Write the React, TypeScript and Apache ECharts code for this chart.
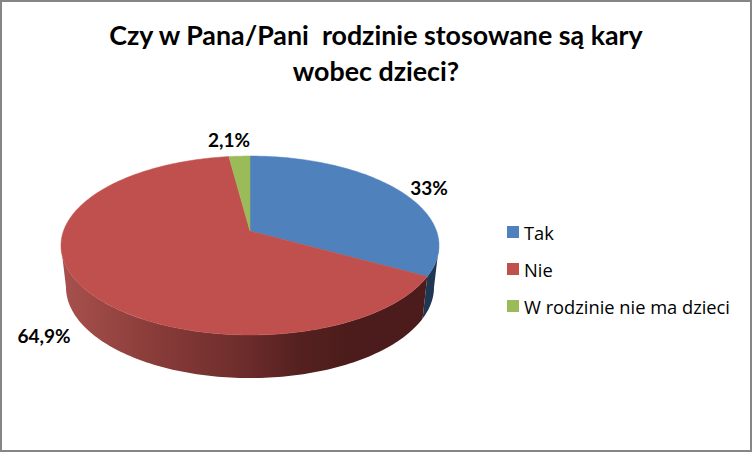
import React, { useEffect, useRef } from "react";
import * as echarts from "echarts";

const categories = ["Tak", "Nie", "W rodzinie nie ma dzieci"];
const values = [33, 64.9, 2.1];
const valueLabels = ["33%", "64,9%", "2,1%"];
const colors = ["#4F81BD", "#C0504D", "#9BBB59"];
const titleLines = "Czy w Pana/Pani  rodzinie stosowane są kary\nwobec dzieci?";

const total = values.reduce((a, b) => a + b, 0);
const CX = 250;
const C = 0.162;
const TOP = { a: -49.7, b: 231, d: 186.5 };
const BOT = { a: -44.5, b: 272.3, d: 181.6 };
const TANGENT = Math.acos(-C);

function project(p: { a: number; b: number; d: number }, t: number): number[] {
  const u = Math.sin(t);
  const v = Math.cos(t);
  const w = 1 + C * v;
  return [CX + (p.d * u) / w, (p.a * v + p.b) / w];
}

function arc(p: { a: number; b: number; d: number }, t0: number, t1: number): number[][] {
  const n = Math.max(2, Math.ceil(Math.abs(t1 - t0) / 0.02));
  const pts: number[][] = [];
  for (let i = 0; i <= n; i++) pts.push(project(p, t0 + ((t1 - t0) * i) / n));
  return pts;
}

const wallFill = [
  "#1F3752",
  new echarts.graphic.LinearGradient(61, 0, 426, 0, [
    { offset: 0, color: "#A8514E" },
    { offset: 0.24, color: "#8B3D3A" },
    { offset: 0.52, color: "#6A2B2A" },
    { offset: 0.65, color: "#552120" },
    { offset: 0.79, color: "#4B1C1B" },
    { offset: 1, color: "#4B1C1B" },
  ], true),
  "#5C7034",
];

function makeSeries(index: number) {
  const before = values.slice(0, index).reduce((a, b) => a + b, 0);
  const t0 = (before / total) * Math.PI * 2;
  const t1 = ((before + values[index]) / total) * Math.PI * 2;
  const labelPos = [
    [429, 187],
    [44, 335],
    [229, 139],
  ][index];
  return {
    type: "custom",
    name: categories[index],
    coordinateSystem: "none",
    silent: true,
    itemStyle: { color: colors[index] },
    data: [values[index]],
    renderItem: () => {
      const children: any[] = [];
      const wt0 = Math.max(t0, TANGENT);
      const wt1 = Math.min(t1, Math.PI * 2 - TANGENT);
      if (wt1 > wt0) {
        children.push({
          type: "polygon",
          shape: { points: [...arc(TOP, wt0, wt1), ...arc(BOT, wt1, wt0)] },
          style: { fill: wallFill[index] },
          z2: 1,
        });
      }
      const face = [[CX, TOP.b], ...arc(TOP, t0, t1)];
      children.push({
        type: "polygon",
        shape: { points: face },
        style: { fill: colors[index], stroke: colors[index], lineWidth: 0.5 },
        z2: 2,
      });
      children.push({
        type: "text",
        x: labelPos[0],
        y: labelPos[1],
        style: {
          text: valueLabels[index],
          fontFamily: "Lato",
          fontWeight: "bold",
          fontSize: 19,
          fill: "#000000",
          align: "center",
          verticalAlign: "middle",
        },
        z2: 3,
      });
      return { type: "group", children };
    },
  };
}

export default function App() {
  const ref = useRef<HTMLDivElement>(null);
  useEffect(() => {
    const chart = echarts.init(ref.current!, undefined, { renderer: "svg" });
    chart.setOption({
      animation: false,
      backgroundColor: "#FFFFFF",
      title: {
        text: titleLines,
        left: 371,
        top: 12,
        textAlign: "center",
        textStyle: {
          fontFamily: "Lato",
          fontWeight: "bold",
          fontSize: 26.8,
          lineHeight: 36,
          color: "#000000",
        },
      },
      legend: {
        orient: "vertical",
        left: 502,
        top: 218,
        itemWidth: 12,
        itemHeight: 12,
        itemGap: 19,
        icon: "rect",
        data: categories,
        textStyle: { fontFamily: "Open Sans", fontSize: 18.3, color: "#000000" },
      },
      graphic: [
        {
          type: "rect",
          silent: true,
          z: 100,
          shape: { x: 1, y: 1, width: 750, height: 450 },
          style: { fill: "none", stroke: "#868686", lineWidth: 2 },
        },
      ],
      series: values.map((_, i) => makeSeries(i)),
    });
    return () => chart.dispose();
  }, []);
  return <div ref={ref} style={{ position: "fixed", left: 0, top: 0, width: 752, height: 452 }} />;
}
